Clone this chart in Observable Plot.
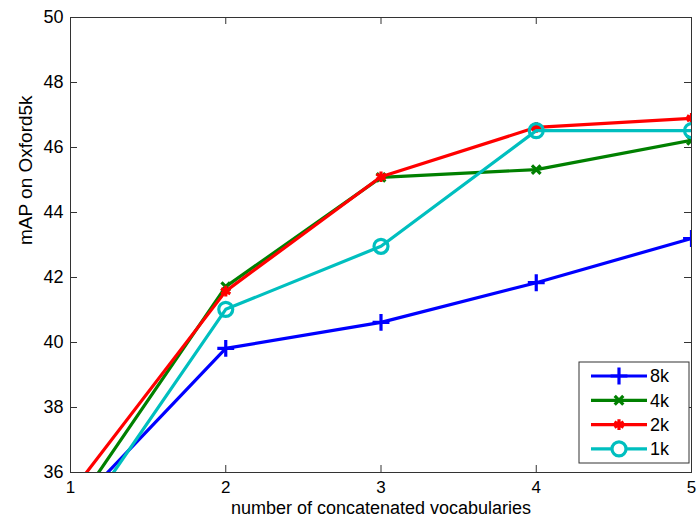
<!DOCTYPE html>
<html><head><meta charset="utf-8">
<script src="https://cdn.jsdelivr.net/npm/d3@7"></script>
<script src="https://cdn.jsdelivr.net/npm/@observablehq/plot@0.6"></script>
<style>body{margin:0;background:#fff;} svg{font-family:"Liberation Sans",Arial,sans-serif;}</style>
</head><body><div id="chart"></div>
<script>
const vocabCounts = [1, 2, 3, 4, 5];
const series = ["8k", "4k", "2k", "1k"];
const map8k = [34.8, 39.82, 40.62, 41.84, 43.2];
const map4k = [34.74, 41.72, 45.08, 45.32, 46.22];
const map2k = [35.36, 41.58, 45.1, 46.62, 46.9];
const map1k = [34.08, 41.02, 42.96, 46.52, 46.52];
const colors = ["#0000ff", "#008000", "#ff0000", "#00bfbf"];
const symbols = ["plus", "times", "asterisk", "circle"];
const xTicks = [1, 2, 3, 4, 5];
const yTicks = [36, 38, 40, 42, 44, 46, 48, 50];

const values = [map8k, map4k, map2k, map1k];
const data = [];
series.forEach((s, i) => vocabCounts.forEach((x, j) => data.push({series: s, x, y: values[i][j]})));

const W = 697, H = 521, mT = 17, mB = 49, mL = 70, mR = 6;
const innerH = H - mT - mB, innerW = W - mL - mR;
const tk = 7;
const radius = {plus: 5.5, times: 4, asterisk: 5, circle: 7};

const marks = [
  Plot.tickX(xTicks, {x: d => d, insetTop: innerH - tk, stroke: "#333"}),
  Plot.tickX(xTicks, {x: d => d, insetBottom: innerH - tk, stroke: "#333"}),
  Plot.tickY(yTicks, {y: d => d, insetRight: innerW - tk, stroke: "#333"}),
  Plot.tickY(yTicks, {y: d => d, insetLeft: innerW - tk, stroke: "#333"}),
  Plot.axisX(xTicks, {tickSize: 0, tickPadding: 8, fontSize: 17, label: null, fill: "#000", tickFormat: d3.format("d")}),
  Plot.axisY(yTicks, {tickSize: 0, tickPadding: 7, fontSize: 18, label: null, fill: "#000", tickFormat: d3.format("d")}),
  Plot.text(["number of concatenated vocabularies"], {frameAnchor: "bottom", dy: 41, fontSize: 18, fill: "#000"}),
  Plot.text(["mAP on Oxford5k"], {frameAnchor: "left", rotate: -90, dx: -45, fontSize: 19, fill: "#000"})
];
series.forEach((s, i) => {
  const d = data.filter(r => r.series === s);
  marks.push(Plot.line(d, {x: "x", y: "y", stroke: colors[i], strokeWidth: 3.2, clip: true}));
  marks.push(Plot.dot(d, {x: "x", y: "y", stroke: colors[i], fill: symbols[i] === "asterisk" ? colors[i] : "none",
    symbol: () => symbols[i], r: radius[symbols[i]], strokeWidth: 3.2, clip: true}));
});
marks.push(Plot.frame({stroke: "#333", strokeWidth: 1}));

const chart = Plot.plot({
  width: W, height: H, marginTop: mT, marginBottom: mB, marginLeft: mL, marginRight: mR,
  x: {domain: [1, 5]},
  y: {domain: [36, 50]},
  symbol: {type: "identity"},
  style: {fontFamily: "'Liberation Sans', Arial, sans-serif", background: "#fff", overflow: "visible"},
  marks
});
document.getElementById("chart").append(chart);

// legend inside the plot
const svg = d3.select(chart);
const lg = svg.append("g").attr("transform", "translate(579,362)").attr("text-anchor", "start");
lg.append("rect").attr("width", 110).attr("height", 101).attr("fill", "#fff").attr("stroke", "#333");
const sym = {plus: d3.symbolPlus, times: d3.symbolTimes, asterisk: d3.symbolAsterisk, circle: d3.symbolCircle};
series.forEach((s, i) => {
  const y = 14 + i * 24.3;
  lg.append("line").attr("x1", 12).attr("x2", 68).attr("y1", y).attr("y2", y).attr("stroke", colors[i]).attr("stroke-width", 3.2);
  const r = radius[symbols[i]];
  lg.append("path").attr("transform", `translate(40,${y})`)
    .attr("d", d3.symbol(sym[symbols[i]], Math.PI * r * r)())
    .attr("stroke", colors[i]).attr("stroke-width", 3.2)
    .attr("fill", symbols[i] === "asterisk" ? colors[i] : (symbols[i] === "circle" ? "#fff" : "none"));
  lg.append("text").attr("x", 71).attr("y", y).attr("dy", "0.36em").attr("font-size", 18).attr("fill", "#000").text(s);
});
</script></body></html>
